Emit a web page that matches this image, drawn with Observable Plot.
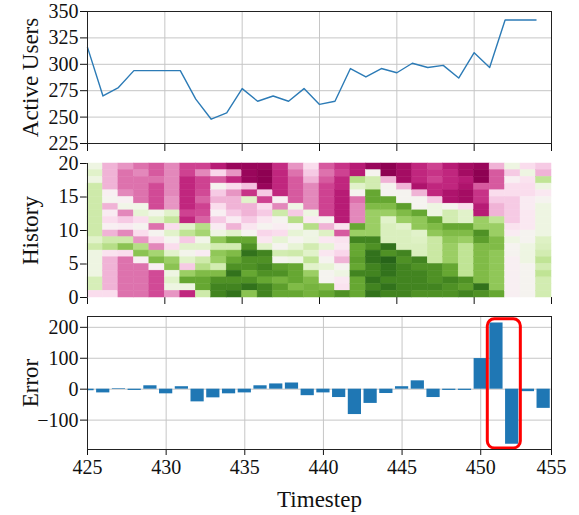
<!DOCTYPE html>
<html>
<head>
<meta charset="utf-8">
<script src="https://cdn.jsdelivr.net/npm/d3@7"></script>
<script src="https://cdn.jsdelivr.net/npm/@observablehq/plot@0.6"></script>
<style>
  body { margin: 0; background: #fff; }
  #chart { width: 579px; }
  #chart svg { display: block; }
</style>
</head>
<body>
<div id="chart"></div>
<script>
// ---- data ----
const timesteps = [425,426,427,428,429,430,431,432,433,434,435,436,437,438,439,440,441,442,443,444,445,446,447,448,449,450,451,452,453,454];
const activeUsers = [316,270,278,294,294,294,294,267,248,254,277,265,270,265,277,262,265,296,288,296,292,301,297,299,287,311,297,342,342,342];
const errors = [-5,-12,2,-4,11,-15,8,-41,-28,-15,-12,11,17,20,-21,-12,-27,-82,-46,-14,8,27,-27,-4,-4,99,214,-178,-8,-62];
// history window per timestep, listed from the top row (19) down to row 0
const historyLevels = [
  [0.5,1,0.5,1.5,1.5,1.5,1.5,1.5,1.5,1.5,1.5,1,1.5,0.5,0.5,0.5,0.5,1.3,1.3,-1],
  [-2,-2,-2,-2,-0.3,0,-2,-0.5,-1,-0.3,-2,1.5,2,-0.8,-2,-2,-2,-2,-2,-1],
  [-2.5,-3,-3,-3,-2.7,-0.3,0.3,-2.7,-1.5,-0.5,-2.7,1.5,2.8,-1,-3,-3,-3,-3,-3,-3],
  [-3,-2.7,-3,-3,-3,-3,0.3,0.8,-1,0,-1,-2.5,2,2.8,-0.3,-3,-3,-3,-3,-3],
  [-3.3,-3.3,-3,-3.5,-3.5,-3.5,-3.5,0.3,1,-3,0,-1,-2.7,2.3,3,-0.3,-3.5,-3.5,-3.5,-3.5],
  [-2.7,-2.7,-2.7,-2.7,-2.7,-2.5,-2.5,1,1.7,-1,1,0,-1,1,2.5,2.8,0.5,1,0.5,-2.5],
  [-3.6,-3.6,-4,-4,-4,-4,-4,-3.6,-4,1,1.8,-1.5,1,0.2,1,-1.5,2.5,3.5,0.5,-4],
  [-3.6,-2.7,-3.6,-3.6,-3.5,-3.2,-3.6,-3.5,-3.2,2,2.3,0.3,1,-0.5,1.5,2,3,3.5,3.5,1.5],
  [-4.2,-1.2,-3.3,0,-1.5,-2,-1,-0.3,-1.5,-0.5,0.5,2.7,1.4,2.7,2.5,1.4,3,4,4.3,4.3],
  [-4.8,-2.5,-4,-1,-2.5,-2,-2,-1.5,-0.5,-2,1,3.5,1.4,3,3.5,4,4.7,4,4.3,4.7],
  [-4.8,-4.8,-4.8,-1.7,-3.8,1,-2,-2,-1.5,-0.7,0,3.5,4,4.7,4,4,3.5,4,4.7,2.8],
  [-4.8,-5,-5,-4.8,-1.5,-3.6,-1,-1.5,-0.7,0,-1.2,-0.7,1,4.3,4,4.3,4,3.5,4.3,4.3],
  [-3.9,-4,-4,-4,-4,-0.3,-2.7,1.5,0,-0.4,-1,0.8,0,1.4,0.1,3.7,4,3.2,3.7,3.5],
  [-2.5,-3,-3.3,-3.3,-3.3,-3.3,0.4,-1.5,2,0,0.8,0,0.8,1.5,0.4,3.5,3.5,3.5,3,3.5],
  [-1,-1.5,-2,-2.7,-2.7,-2.7,-2.7,0.5,-0.6,2,0.4,0.5,1.4,1,1.8,1,2.5,3,3.2,3.2],
  [-3.3,-3,-3.3,-3.6,-3.6,-3.6,-3.6,-3.6,0,-2,1.1,-0.6,0.8,-0.7,0,0.8,0,0,3,3.5],
  [-3.8,-3.6,-4,-4,-4.2,-4.2,-4.2,-4.2,-4.2,-0.8,-3.3,-0.8,-0.6,-1.2,-2,0,0.5,-0.6,-0.8,4],
  [-4.2,-4.2,2,1,0,-3,-2.7,-2.7,-2.7,3.5,2.5,4.3,3.5,3.5,3.7,3.5,4.3,3.5,3.5,3.5],
  [-4.8,0,1.4,1.4,3.5,3.5,3,2.5,2.5,2.5,2.5,4.3,4,4.7,4.7,4.3,4.3,4.7,4.3,4.7],
  [-5,-5,-2,0,0,3.5,3,2.5,1,1.2,1.2,1.2,4.7,4,5,4.7,4.7,4.3,4.7,4.3],
  [-4.6,-4.6,-4.6,-2,0,0,3.7,3,2.5,1,1.2,1.2,1.2,4.3,4,4.3,4.3,4.3,4.3,4.3],
  [-4,-4,-4,-4.4,-2,0,0,3.5,2.7,2.7,1,1.1,1.2,1.2,4.3,4,4.3,4.3,4.3,4],
  [-3.6,-3.8,-3.6,-4,-4,-1.5,0.5,0.5,3.5,3,2.7,1.6,1.6,1.6,1.6,4,4,4,4.3,4],
  [-4.2,-4,-4,-4,-4.4,-4.4,0,1.4,1.4,3.5,3,2.7,2.5,2.5,2.5,3.5,3.5,4.3,4,4],
  [-4.6,-4.6,-4.2,-4.4,-4.6,-4.6,-1,1,1,3.5,3,2.5,1.8,1.8,1.8,1.8,1.8,4,3.7,4.3],
  [-4.8,-5,-5,-3.3,-3.8,-3.8,-4.2,-4.2,2.5,2.5,4,3.7,3,3,3,3,3,3,4.7,4],
  [-2,-3.3,-3.3,-3.3,-1,-1.5,-2,-2,1.8,2.5,2.5,3,3,2.7,2.7,2.7,2.7,2.7,2.7,3.5],
  [0.5,-1.5,-0.3,-1,-1,-1.5,-1.5,-1.5,-1.5,-0.8,-0.5,0.5,0,0,-0.3,-0.3,-0.3,-0.3,-0.3,-0.3],
  [-1,0.5,-0.8,-1,-1,-0.5,-0.5,-0.6,-0.6,-0.6,0,0,0.5,0.5,0.5,0,0,0,0,0],
  [-1.5,-2,1.8,0.5,-0.6,0,0.5,0.5,0.5,0.5,0.5,1.1,1.2,1.4,1.8,1.4,1.8,1.4,1.4,1.4]
];
const highlightSteps = [451, 452];
const stepTicks = [425, 430, 435, 440, 445, 450, 455];
const userTicks = [225, 250, 275, 300, 325, 350];
const historyTicks = [0, 5, 10, 15, 20];
const errorTicks = [-100, 0, 100, 200];
const axisTitles = {users: "Active Users", history: "History", error: "Error", step: "Timestep"};

// ---- tables ----
const users = timesteps.map((t, i) => ({t, v: activeUsers[i]}));
const errs = timesteps.map((t, i) => ({t, v: errors[i]}));
const cells = [];
historyLevels.forEach((col, i) => col.forEach((v, j) => cells.push({t: timesteps[i], h: col.length - 1 - j, v})));
const hiErr = errs.filter(d => highlightSteps.includes(d.t));
const highlight = [{
  x1: d3.min(highlightSteps) - 0.55,
  x2: d3.max(highlightSteps) + 0.55,
  y1: d3.min(hiErr, d => d.v) - 14,
  y2: d3.max(hiErr, d => d.v) + 12
}];

// bottom panel spans half a step less on the right; its last tick sits on the edge
const errStepMax = d3.max(timesteps) + 0.5;
const errStepTicks = stepTicks.map(t => Math.min(t, errStepMax));

const serif = "'Liberation Serif', 'Times New Roman', serif";
const font = {fontFamily: serif, fontSize: "20px", color: "#111", background: "#fff", overflow: "visible"};
const common = {width: 579, marginLeft: 87, marginRight: 28, style: font};
const gridColor = "#c6c6c6";
const yTitle = (text) => Plot.text([text], {frameAnchor: "left", dx: -57, rotate: -90, textAnchor: "middle", lineAnchor: "middle", fontSize: 23, fontFamily: serif, fill: "#111"});

const p1 = Plot.plot({
  ...common, height: 153, marginTop: 11, marginBottom: 10,
  x: {domain: [425, 455], ticks: stepTicks, tickFormat: () => "", tickSize: 8, label: null},
  y: {domain: [225, 350], ticks: userTicks, tickSize: 7, tickPadding: 2, label: null},
  marks: [
    Plot.ruleX(stepTicks.slice(1, -1), {stroke: gridColor}),
    Plot.ruleY(userTicks.slice(1, -1), {stroke: gridColor}),
    Plot.line(users, {x: "t", y: "v", stroke: "#2c7bb6", strokeWidth: 1.4}),
    Plot.frame({stroke: "#222"}),
    yTitle(axisTitles.users)
  ]
});

const p2 = Plot.plot({
  ...common, height: 153, marginTop: 10, marginBottom: 9,
  x: {domain: [425, 455], ticks: stepTicks, tickFormat: () => "", tickSize: 7, label: null},
  y: {domain: [0, 20], ticks: historyTicks, tickSize: 7, tickPadding: 2, label: null},
  color: {type: "linear", scheme: "PiYG", domain: [-5, 5]},
  marks: [
    Plot.rect(cells, {x1: "t", x2: d => d.t + 1, y1: "h", y2: d => d.h + 1, fill: "v", stroke: "v", strokeWidth: 0.5}),
    Plot.ruleX([425], {stroke: "#222"}),
    yTitle(axisTitles.history)
  ]
});

const p3 = Plot.plot({
  ...common, height: 209, marginTop: 10, marginBottom: 66,
  x: {domain: [425, errStepMax], ticks: errStepTicks, tickFormat: d => String(Math.round(d)), tickSize: 6, tickPadding: 4, label: null},
  y: {domain: [-195, 235], ticks: errorTicks, tickFormat: d3.format("d"), tickSize: 7, tickPadding: 2, label: null},
  marks: [
    Plot.ruleX(stepTicks.slice(1, -1), {stroke: gridColor}),
    Plot.ruleY(errorTicks, {stroke: gridColor}),
    Plot.rectY(errs, {x1: d => d.t - 0.42, x2: d => d.t + 0.42, y: "v", fill: "#1f77b4", clip: true}),
    Plot.rect(highlight, {x1: "x1", x2: "x2", y1: "y1", y2: "y2", fill: "none", stroke: "#f00", strokeWidth: 3, rx: 7, ry: 7}),
    Plot.frame({stroke: "#222"}),
    yTitle(axisTitles.error),
    Plot.text([axisTitles.step], {frameAnchor: "bottom", dy: 50, textAnchor: "middle", lineAnchor: "middle", fontSize: 23, fontFamily: serif, fill: "#111"})
  ]
});

const chart = document.getElementById("chart");
chart.append(p1, p2, p3);
</script>
</body>
</html>
